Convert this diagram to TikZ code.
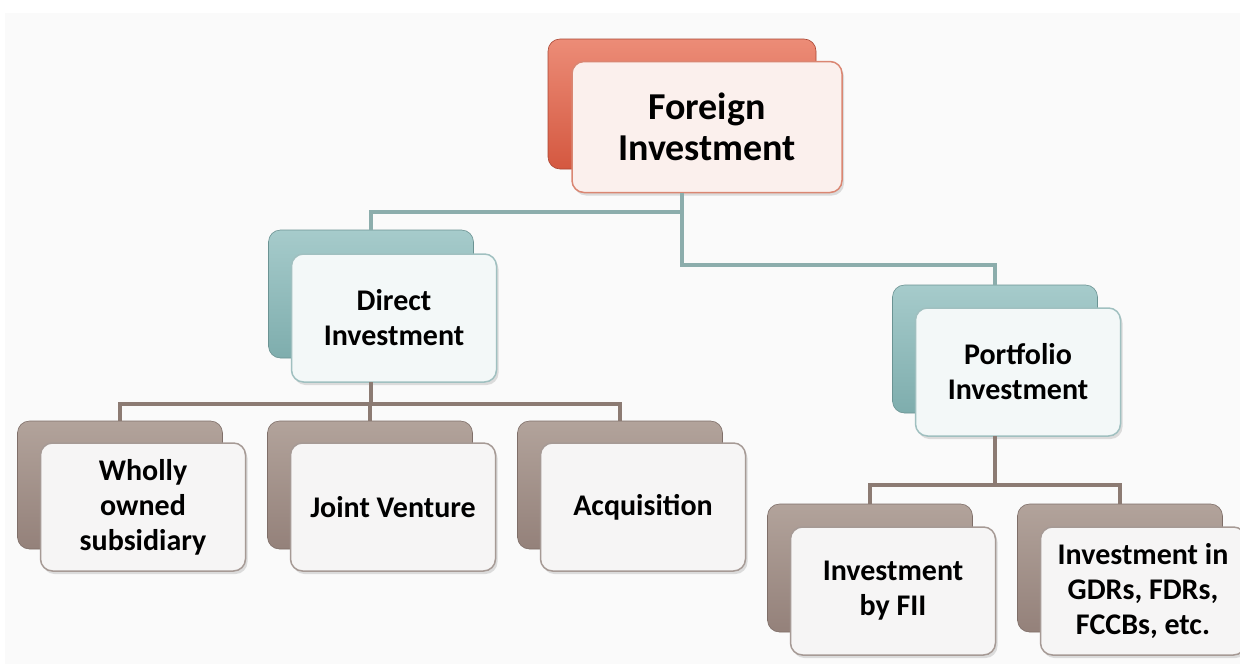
\documentclass[tikz,border=0pt]{standalone}
\usepackage{fontspec}
\setmainfont{Carlito}
\usetikzlibrary{calc}
\usetikzlibrary{shadows}

\definecolor{redtop}{HTML}{EC8C77}
\definecolor{redbot}{HTML}{D45840}
\definecolor{redline}{HTML}{DA8672}
\definecolor{redfill}{HTML}{FBF0ED}
\definecolor{tealtop}{HTML}{A6CBCB}
\definecolor{tealbot}{HTML}{7EADAD}
\definecolor{tealline}{HTML}{A0C0C0}
\definecolor{tealfill}{HTML}{F3F8F8}
\definecolor{browntop}{HTML}{B2A39B}
\definecolor{brownbot}{HTML}{94817A}
\definecolor{brownline}{HTML}{A69A95}
\definecolor{brownfill}{HTML}{F6F5F5}
\definecolor{linkteal}{HTML}{8CADAC}
\definecolor{linkbrown}{HTML}{8C7B73}

\begin{document}
\begin{tikzpicture}[x=1pt, y=-1pt]

 \tikzset{
    box/.style={
      rectangle,
      rounded corners=12pt,
      minimum width=205pt,
      minimum height=128pt,
      inner sep=0pt,
      outer sep=0pt,
      align=center,
      font=\fontsize{30}{35}\selectfont\bfseries
    },
    backR/.style={box, minimum width=268pt, minimum height=130pt, top color=redtop, bottom color=redbot, draw=redbot!80!black, line width=0.6pt},
    frontR/.style={box, minimum width=270pt, minimum height=131pt, fill=redfill, draw=redline, line width=1.5pt,
      font=\fontsize{38}{41}\selectfont\bfseries, drop shadow={opacity=0.25, shadow xshift=2pt, shadow yshift=-3pt}},
    backT/.style={box, top color=tealtop, bottom color=tealbot, draw=tealbot!85!black, line width=0.6pt},
    frontT/.style={box, fill=tealfill, draw=tealline, line width=1.5pt, drop shadow={opacity=0.25, shadow xshift=2pt, shadow yshift=-3pt}},
    backB/.style={box, top color=browntop, bottom color=brownbot, draw=brownbot!85!black, line width=0.6pt},
    frontB/.style={box, fill=brownfill, draw=brownline, line width=1.5pt, drop shadow={opacity=0.25, shadow xshift=2pt, shadow yshift=-3pt}},
    linkT/.style={draw=linkteal, line width=4pt},
    linkB/.style={draw=linkbrown, line width=4pt}
  }

\useasboundingbox (0,0) rectangle (1240,664);
\fill[white] (0,0) rectangle (1240,664);
\fill[black!2] (5,13) rectangle (1240,664);

% top level
\node[backR] (bfi) at (682,104) {};
\node[frontR] (fi) at (707,127) {Foreign\\Investment};

% second level
\node[backT] (bdi) at (371,294) {};
\node[frontT] (di) at (394,318) {Direct\\Investment};
\node[backT] (bpi) at (995,349) {};
\node[frontT] (pi) at (1018,372) {Portfolio\\Investment};

% third level
\foreach \n/\x/\t in {wo/120/{Wholly\\owned\\subsidiary}, jv/370/{Joint Venture}, aq/620/{Acquisition}} {
    \node[backB] (b\n) at (\x,485) {};
    \node[frontB] (\n) at (\x+23,507) {\t};
}
\foreach \n/\x/\t in {fii/870/{Investment\\by FII}, gdr/1120/{Investment in\\GDRs, FDRs,\\FCCBs, etc.}} {
    \node[backB] (b\n) at (\x,568) {};
    \node[frontB] (\n) at (\x+23,591) {\t};
}

% connectors
\draw[linkT] (bfi |- fi.south) |- (bdi.north |- 0,212) -- (bdi.north);
\draw[linkT] (bfi |- fi.south) |- (bpi.north |- 0,265) -- (bpi.north);

\foreach \n in {wo,jv,aq}
    \draw[linkB] (bdi |- di.south) |- (b\n.north |- 0,404) -- (b\n.north);
\foreach \n in {fii,gdr}
    \draw[linkB] (bpi |- pi.south) |- (b\n.north |- 0,485) -- (b\n.north);

\end{tikzpicture}
\end{document}
